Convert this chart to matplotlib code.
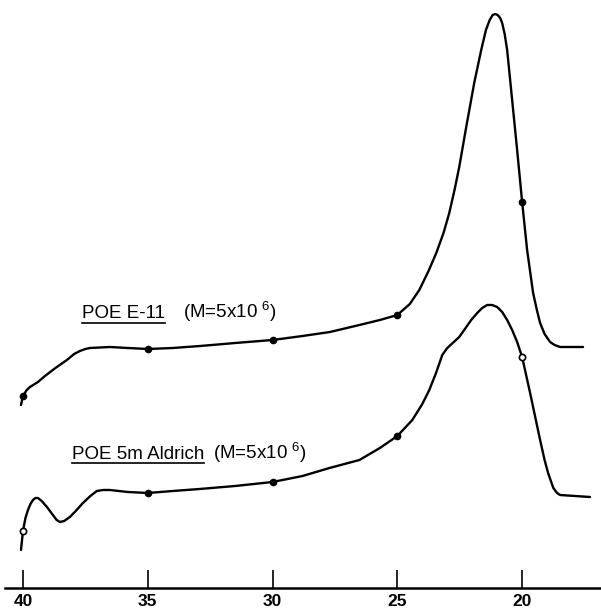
import matplotlib
matplotlib.use("Agg")
import matplotlib.pyplot as plt
from matplotlib.lines import Line2D

plt.rcParams['font.family'] = ['Liberation Sans', 'DejaVu Sans']
plt.rcParams['mathtext.fontset'] = 'custom'
plt.rcParams['mathtext.rm'] = 'Liberation Sans'

# Elution volume (x) vs detector response (arbitrary units)
upper_x = [40.08, 40.0, 39.85, 39.72, 39.4, 39.12, 38.7, 38.24, 37.95, 37.72, 37.5,
           37.32, 36.52, 35.8, 35.0, 34.0, 32.9, 31.5, 30.0, 28.8, 27.7, 26.52,
           25.7, 25.0, 24.5, 24.12, 23.75, 23.44, 23.15, 22.92, 22.7, 22.52,
           22.24, 21.92, 21.64, 21.45, 21.3, 21.18, 21.08, 20.98, 20.88, 20.8,
           20.7, 20.6, 20.4, 20.2, 20.0, 19.8, 19.56, 19.4, 19.28, 19.1, 18.88,
           18.7, 18.48, 17.56]
upper_y = [1.83, 1.92, 1.98, 2.01, 2.06, 2.12, 2.20, 2.28, 2.34, 2.37, 2.39,
           2.40, 2.41, 2.40, 2.39, 2.40, 2.42, 2.45, 2.48, 2.52, 2.56, 2.63,
           2.68, 2.73, 2.84, 2.98, 3.17, 3.35, 3.55, 3.75, 3.99, 4.21,
           4.61, 5.05, 5.38, 5.58, 5.68, 5.73, 5.74, 5.73, 5.70, 5.65,
           5.54, 5.38, 4.88, 4.38, 3.86, 3.38, 2.95, 2.77, 2.65, 2.54, 2.46,
           2.43, 2.41, 2.41]

lower_x = [40.08, 40.0, 39.9, 39.8, 39.7, 39.6, 39.5, 39.4, 39.25, 39.04, 38.8,
           38.65, 38.52, 38.35, 38.12, 37.85, 37.6, 37.3, 37.04, 36.8, 36.52,
           35.8, 35.0, 34.0, 32.92, 31.5, 30.0, 28.8, 27.72, 26.52, 25.7, 25.0,
           24.4, 24.0, 23.72, 23.45, 23.2, 23.0, 22.52, 22.04, 21.8, 21.6, 21.4,
           21.2, 21.0, 20.8, 20.6, 20.4, 20.2, 20.0, 19.68, 19.28, 19.1, 18.96,
           18.75, 18.6, 18.48, 17.28]
lower_y = [0.38, 0.57, 0.70, 0.78, 0.84, 0.88, 0.90, 0.90, 0.87, 0.81, 0.73,
           0.68, 0.66, 0.67, 0.71, 0.78, 0.85, 0.92, 0.97, 0.98, 0.98,
           0.96, 0.95, 0.97, 0.99, 1.02, 1.06, 1.12, 1.20, 1.28, 1.40, 1.52,
           1.68, 1.84, 1.98, 2.15, 2.33, 2.40, 2.51, 2.68, 2.75, 2.80, 2.83,
           2.83, 2.81, 2.76, 2.68, 2.58, 2.46, 2.31, 1.95, 1.48, 1.28, 1.15,
           1.00, 0.95, 0.93, 0.91]

upper_marks_x = [40, 35, 30, 25, 20]
upper_marks_y = [1.92, 2.39, 2.48, 2.73, 3.86]
lower_filled_x = [35, 30, 25]
lower_filled_y = [0.95, 1.06, 1.52]
lower_open_x = [40, 20]
lower_open_y = [0.57, 2.31]

ticks = [40, 35, 30, 25, 20]
tick_labels = ["40", "35", "30", "25", "20"]

upper_name = "POE E-11"
lower_name = "POE 5m Aldrich"
mass_label = r"(M=5x10 $\mathregular{^{6}}$)"

fig = plt.figure(figsize=(6.01, 6.09), dpi=100)
ax = fig.add_axes([5/601, 21/609, 596/601, 588/609])
ax.set_xlim(40.72, 16.84)
ax.set_ylim(0, 5.88)

ax.plot(upper_x, upper_y, color='black', lw=1.7, solid_joinstyle='round', solid_capstyle='round')
ax.plot(lower_x, lower_y, color='black', lw=1.7, solid_joinstyle='round', solid_capstyle='round')
ax.plot(upper_marks_x, upper_marks_y, 'o', color='black', ms=4.5, zorder=3)
ax.plot(lower_filled_x, lower_filled_y, 'o', color='black', ms=4.5, zorder=3)
ax.plot(lower_open_x, lower_open_y, 'o', mfc='white', mec='black', mew=1.2, ms=4.5, zorder=3)

for s in ['top', 'right', 'left']:
    ax.spines[s].set_visible(False)
ax.spines['bottom'].set_linewidth(1.8)
ax.set_yticks([])
ax.set_xticks(ticks)
ax.set_xticklabels(tick_labels, fontsize=12.5, fontweight='bold')
ax.tick_params(axis='x', direction='in', length=13, width=1.2, pad=4)

fs = 13.5
t1 = ax.text(37.64, 2.70, upper_name, fontsize=fs, ha='left', va='baseline')
ax.text(33.6, 2.70, mass_label, fontsize=fs, ha='left', va='baseline')
t2 = ax.text(38.04, 1.29, lower_name, fontsize=fs, ha='left', va='baseline')
ax.text(32.4, 1.29, mass_label, fontsize=fs, ha='left', va='baseline')

fig.canvas.draw()
r = fig.canvas.get_renderer()
inv = ax.transData.inverted()
for t, yline in [(t1, 2.655), (t2, 1.25)]:
    bb = t.get_window_extent(r)
    x0 = inv.transform((bb.x0, 0))[0]
    x1 = inv.transform((bb.x1, 0))[0]
    ax.add_line(Line2D([x0, x1], [yline, yline], color='black', lw=1.2))

fig.savefig("out.png", dpi=100)
